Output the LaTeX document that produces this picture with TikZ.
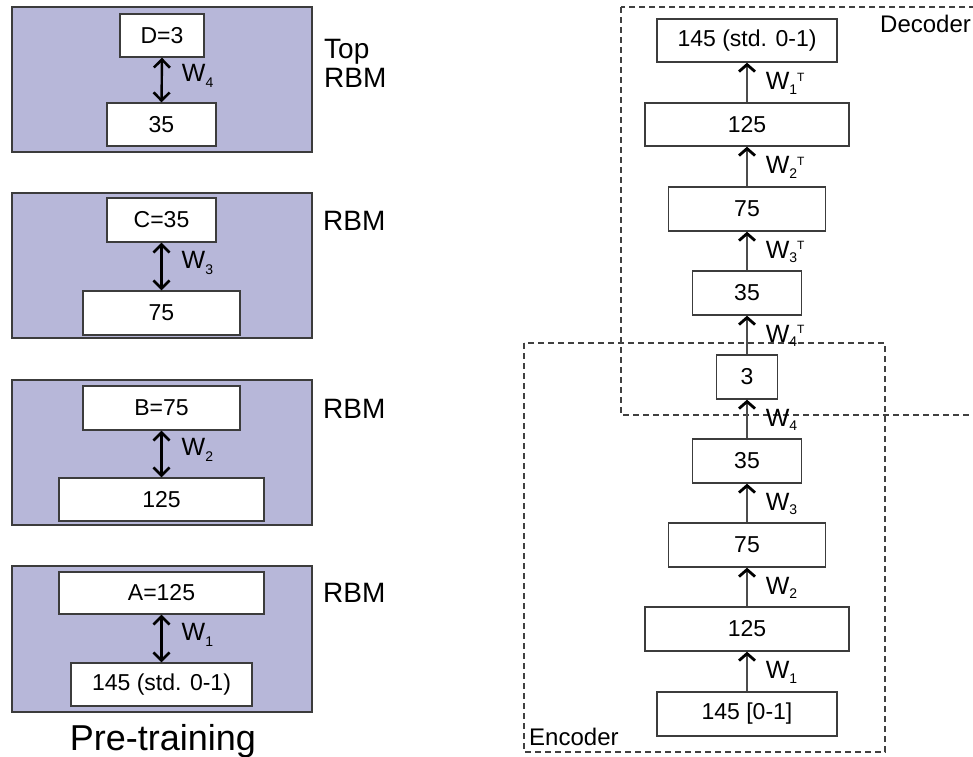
\documentclass[tikz,border=0pt]{standalone}
\usepackage{fontspec}
\setmainfont{Liberation Sans}
\usetikzlibrary{arrows.meta}
\definecolor{panelfill}{RGB}{183,183,217}
\definecolor{edge}{RGB}{60,60,60}
\newcommand{\wsub}[1]{W\raisebox{-6pt}{\fontsize{14}{14}\selectfont #1}}
\newcommand{\wsubr}[1]{W\raisebox{-4.5pt}{\fontsize{14}{14}\selectfont #1}}
\newcommand{\wsubt}[1]{W\raisebox{-4.5pt}{\fontsize{14}{14}\selectfont #1}\raisebox{8.5pt}{\fontsize{12}{12}\selectfont T}}
\begin{document}
\begin{tikzpicture}[x=1pt,y=-1pt,
  panelbox/.style={draw=edge, line width=1.2pt, fill=panelfill, inner sep=0pt},
  lay/.style={draw=edge, line width=1.4pt, fill=white, inner sep=0pt, font=\fontsize{23}{25}\selectfont},
  dbl/.style={line width=2.4pt, black, {Straight Barb[length=8pt,width=16pt,line width=2.6pt]}-{Straight Barb[length=8pt,width=16pt,line width=2.6pt]}},
  up/.style={line width=1.6pt, black!70, -{Straight Barb[length=7pt,width=16pt,line width=2.8pt,color=black]}},
  wl/.style={anchor=west, xshift=18pt, text=black, font=\fontsize{25}{27}\selectfont, inner sep=0pt},
  side/.style={anchor=base west, font=\fontsize{28}{30}\selectfont, inner sep=0pt},
  dashbox/.style={draw=black!75, line width=1.2pt, dash pattern=on 6pt off 4pt},
  boxcaption/.style={font=\fontsize{24}{26}\selectfont, inner sep=0pt}]
\useasboundingbox (0,0) rectangle (973,756);

% ---------- Pre-training panels ----------
\node[panelbox, minimum width=300pt, minimum height=145pt] (p1) at (162,79.5) {};
\node[panelbox, minimum width=300pt, minimum height=145pt] (p2) at (162,265.5) {};
\node[panelbox, minimum width=300pt, minimum height=145pt] (p3) at (162,452.5) {};
\node[panelbox, minimum width=300pt, minimum height=146pt] (p4) at (162,639) {};

\node[lay, minimum width=84pt, minimum height=43pt] (d3) at (162,35.5) {D=3};
\node[lay, minimum width=109pt, minimum height=43pt] (l35) at (161.5,124.5) {35};
\node[lay, minimum width=109pt, minimum height=44pt] (c35) at (161.5,220) {C=35};
\node[lay, minimum width=157pt, minimum height=44pt] (l75) at (161.5,313) {75};
\node[lay, minimum width=157pt, minimum height=44pt] (b75) at (161.5,408) {B=75};
\node[lay, minimum width=205pt, minimum height=43pt] (l125) at (161.5,499.5) {125};
\node[lay, minimum width=205pt, minimum height=42pt] (a125) at (161.5,593) {A=125};
\node[lay, minimum width=181pt, minimum height=43pt] (l145) at (161.5,684.5) {145 (std. 0-1)};

\draw[dbl] (d3.south) -- node[wl, xshift=1pt, yshift=4pt] {\wsub{4}} (l35.north);
\draw[dbl] (c35.south) -- node[wl, xshift=1pt, yshift=4pt] {\wsub{3}} (l75.north);
\draw[dbl] (b75.south) -- node[wl, xshift=1pt, yshift=4pt] {\wsub{2}} (l125.north);
\draw[dbl] (a125.south) -- node[wl, xshift=1pt, yshift=4pt] {\wsub{1}} (l145.north);

\node[side] (top) at (324,58) {Top};
\node[side] (rbm1) at (324,87) {RBM};
\node[side] (rbm2) at (323,230) {RBM};
\node[side] (rbm3) at (323,418) {RBM};
\node[side] (rbm4) at (323,602) {RBM};
\node[anchor=base, font=\fontsize{36}{38}\selectfont, inner sep=0pt] (pre) at (163,750) {Pre-training};

% ---------- Encoder / Decoder ----------
\draw[dashbox] (621,7) rectangle (990,415);
\draw[dashbox] (524,343) rectangle (885,752);
\node[boxcaption, anchor=base west] (dec) at (880,32) {Decoder};
\node[boxcaption, anchor=base west] (enc) at (529,745) {Encoder};

\node[lay, minimum width=180pt, minimum height=43pt] (r145) at (747,40.5) {145 (std. 0-1)};
\node[lay, minimum width=204pt, minimum height=43pt] (r125) at (747,124.5) {125};
\node[lay, minimum width=157pt, minimum height=44pt] (r75) at (747,209) {75};
\node[lay, minimum width=109pt, minimum height=44pt] (r35) at (747,293) {35};
\node[lay, minimum width=61pt, minimum height=44pt] (r3) at (747,377) {3};
\node[lay, minimum width=109pt, minimum height=44pt] (e35) at (747,461) {35};
\node[lay, minimum width=157pt, minimum height=44pt] (e75) at (747,545) {75};
\node[lay, minimum width=204pt, minimum height=44pt] (e125) at (747,629) {125};
\node[lay, minimum width=180pt, minimum height=44pt] (e145) at (747,714) {145 [0-1]};

\draw[up] (e145.north) -- node[wl, yshift=-1pt] {\wsubr{1}} (e125.south);
\draw[up] (e125.north) -- node[wl, yshift=-1pt] {\wsubr{2}} (e75.south);
\draw[up] (e75.north) -- node[wl, yshift=-1pt] {\wsubr{3}} (e35.south);
\draw[up] (e35.north) -- node[wl, yshift=-1pt] {\wsubr{4}} (r3.south);
\draw[up] (r3.north) -- node[wl, yshift=-1pt] {\wsubt{4}} (r35.south);
\draw[up] (r35.north) -- node[wl, yshift=-1pt] {\wsubt{3}} (r75.south);
\draw[up] (r75.north) -- node[wl, yshift=-1pt] {\wsubt{2}} (r125.south);
\draw[up] (r125.north) -- node[wl, yshift=-1pt] {\wsubt{1}} (r145.south);
\end{tikzpicture}
\end{document}
